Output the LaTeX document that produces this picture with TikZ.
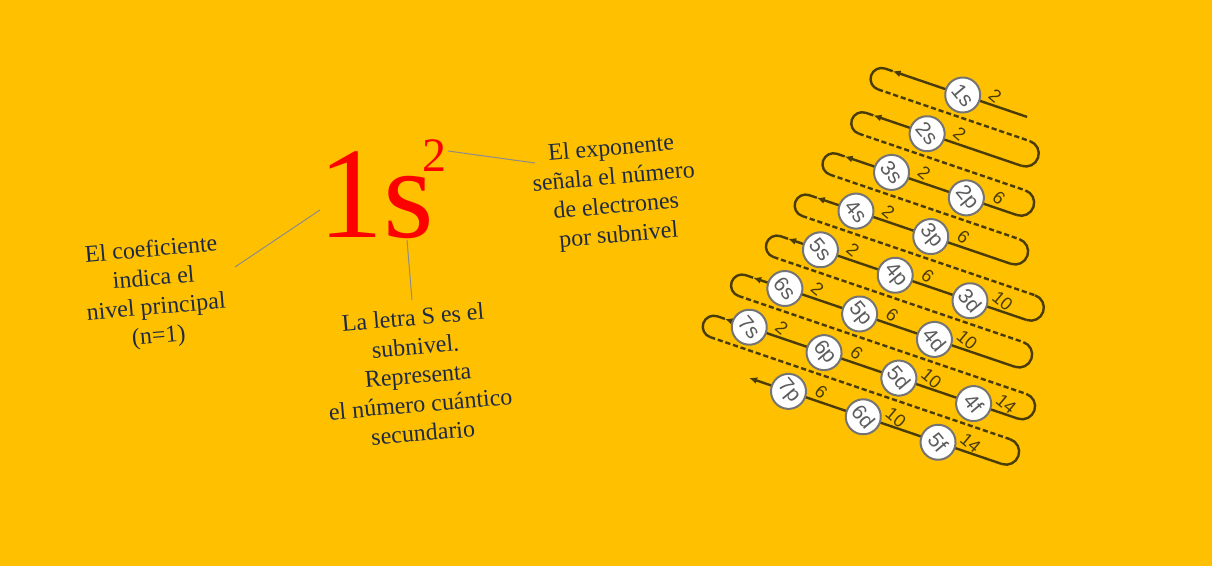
\documentclass[tikz,border=0pt]{standalone}
\usepackage{fontspec}
\setmainfont{Liberation Serif}
\setsansfont{Liberation Sans}
\usetikzlibrary{arrows.meta}
\definecolor{ecgold}{HTML}{FFC000}
\definecolor{ecnavy}{HTML}{1E2A44}
\definecolor{ecwire}{HTML}{4A3C08}
\definecolor{ecred}{HTML}{FF0000}
\definecolor{ecgrey}{HTML}{5C5C5C}
\definecolor{ecline}{HTML}{8C8C8C}
\tikzset{
  note/.style={text=ecnavy,align=center,rotate=5,inner sep=0pt,
               font=\fontsize{12}{14.5}\selectfont},
  orb/.style={circle,draw=ecgrey!85,fill=white,line width=1pt,minimum size=17.5pt,
              inner sep=0pt,text=ecgrey,font=\sffamily\fontsize{10.5}{10.5}\selectfont,rotate=-50},
  num/.style={text=ecwire,inner sep=0pt,font=\sffamily\fontsize{9}{9}\selectfont,rotate=-40},
  wire/.style={ecwire,line width=1.2pt},
  ret/.style={wire,dashed,dash pattern=on 2.6pt off 1.4pt},
  ar/.style={wire,-{Latex[length=4pt,width=3.5pt]}},
  lead/.style={ecline,line width=0.5pt},
}

\begin{document}
\begin{tikzpicture}[x=0.5pt,y=-0.5pt]
    \useasboundingbox (0,0) rectangle (1212,566);
    \fill[ecgold] (0,0) rectangle (1212,566);
    % configuracion 1s2
    \node[inner sep=0pt,anchor=base,text=ecred,font=\fontsize{65}{65}\selectfont] (conf) at (376,238) {1s};
    \node[inner sep=0pt,anchor=base,text=ecred,font=\fontsize{24}{24}\selectfont] (sup) at (434,172) {2};
    \node[note] (coef) at (155,294) {El coeficiente\\indica el\\nivel principal\\(n=1)};
    \node[note] (letra) at (418,375) {La letra S es el\\subnivel.\\Representa\\el número cuántico\\secundario};
    \node[note] (expo) at (615,193) {El exponente\\señala el número\\de electrones\\por subnivel};
    \coordinate (coefend) at (235,267);
    \coordinate (confw) at (320,210);
    \coordinate (confs) at (407,240);
    \coordinate (letraend) at (412,300);
    \coordinate (supe) at (448,151);
    \coordinate (expoend) at (535,163);
    \draw[lead] (coefend) -- (confw);
    \draw[lead] (confs) -- (letraend);
    \draw[lead] (supe) -- (expoend);
    % diagrama de Moeller
    \begin{scope}[shift={(962.7,95)},rotate=-18.8,y=0.5pt]
      \coordinate (s0) at (68,0);
      \foreach \r/\L/\R in {0/-93/91.5,1/-97/103,2/-111/113,3/-124/146,4/-138/150,5/-158.5/169.5,6/-172/169}{
        \pgfmathtruncatemacro\nx{\r+1}
        \coordinate (t\r) at (\L+11,-48.1*\r);
        \coordinate (a\r) at (\L+19,-48.1*\r);
        \coordinate (d\r) at (\L+11,-48.1*\r-22);
        \coordinate (b\r) at (\R-13,-48.1*\r-22);
        \coordinate (s\nx) at (\R-13,-48.1*\r-48.1);
      }
      \coordinate (a7) at (-111,-336.7);
      \foreach \r in {0,...,6}{
        \draw[ar] (s\r) -- (a\r);
        \draw[wire] (a\r) -- (t\r) arc[start angle=90,end angle=270,radius=11];
        \draw[ret] (d\r) -- (b\r);
        \draw[wire] (b\r) arc[start angle=90,end angle=-90,radius=13.05];
      }
      \draw[ar] (s7) -- (a7);
      \foreach \nm/\r/\l/\e in {1s/0/0/2,2s/1/0/2,3s/2/0/2,2p/2/1/6,4s/3/0/2,3p/3/1/6,
          5s/4/0/2,4p/4/1/6,3d/4/2/10,6s/5/0/2,5p/5/1/6,4d/5/2/10,7s/6/0/2,6p/6/1/6,
          5d/6/2/10,4f/6/3/14,7p/7/1/6,6d/7/2/10,5f/7/3/14}{
        \node[orb] (o\nm) at ({-21.2*\r+79*\l},{-48.1*\r}) {\nm};
        \node[num] (n\nm) at ({-21.2*\r+79*\l+31},{-48.1*\r+10}) {\e};
      }
    \end{scope}
\end{tikzpicture}
\end{document}
